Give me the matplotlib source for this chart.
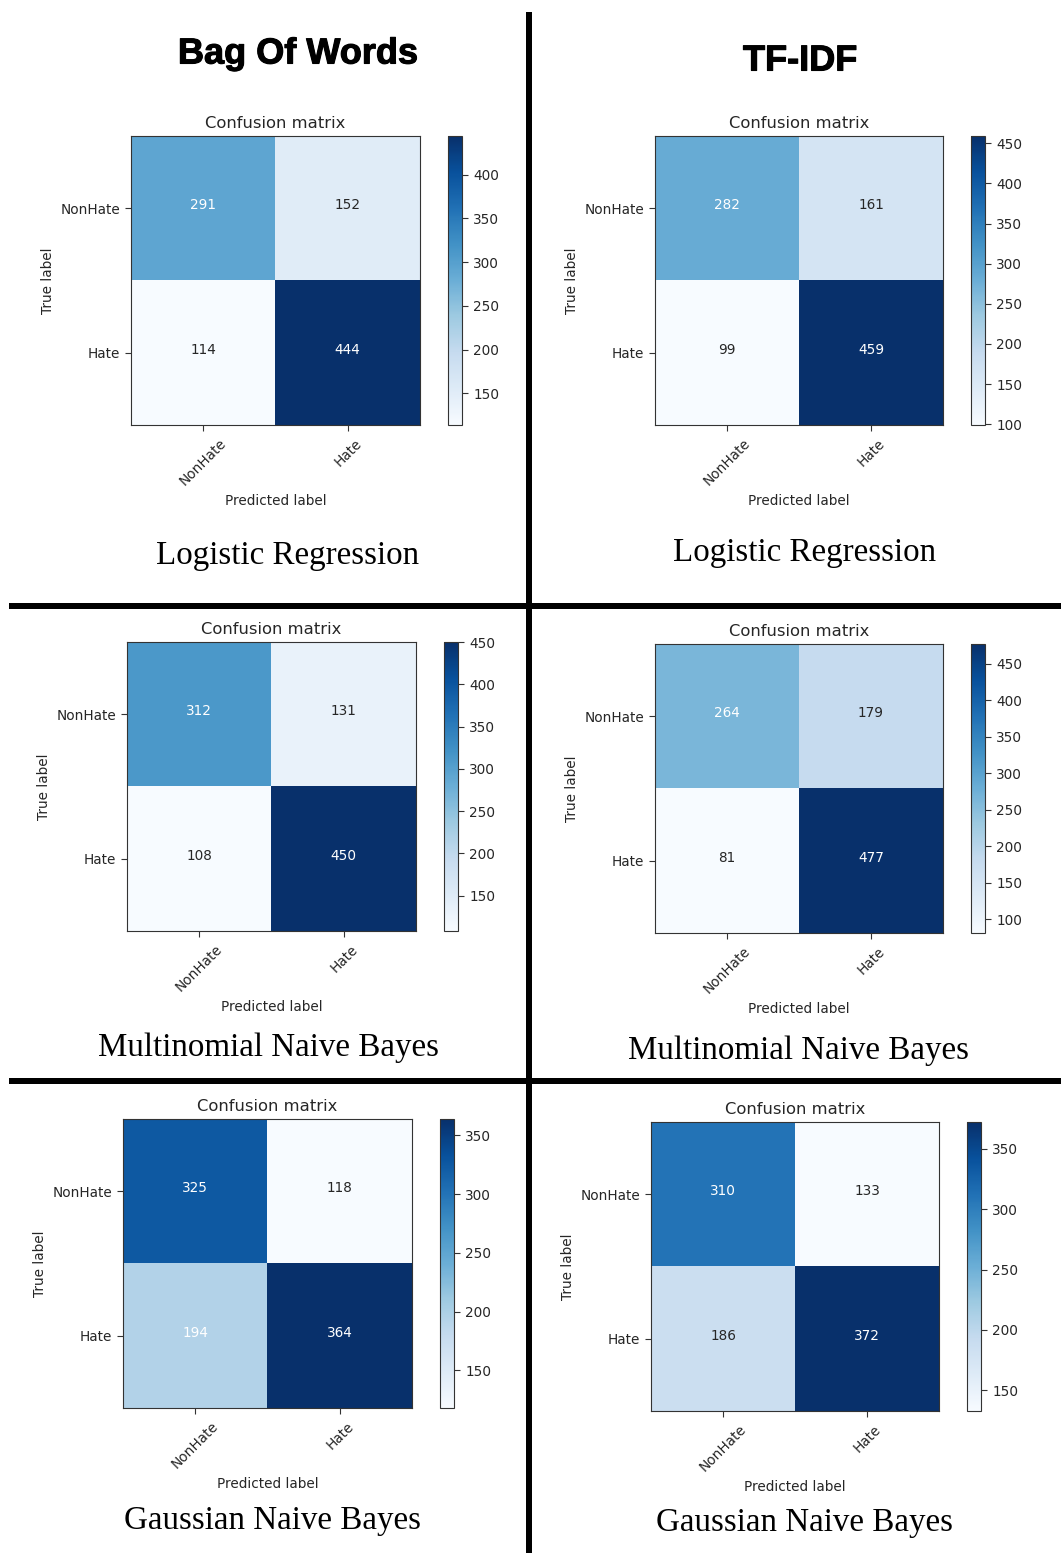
import numpy as np
import matplotlib
matplotlib.use("Agg")
import matplotlib.pyplot as plt
import matplotlib.patheffects as pe
from matplotlib.lines import Line2D

# Class names shared by every confusion matrix
classes = ["NonHate", "Hate"]

# Confusion matrices (rows: true label, columns: predicted label)
bow_logreg = [[291, 152], [114, 444]]
tfidf_logreg = [[282, 161], [99, 459]]
bow_mnb = [[312, 131], [108, 450]]
tfidf_mnb = [[264, 179], [81, 477]]
bow_gnb = [[325, 118], [194, 364]]
tfidf_gnb = [[310, 133], [186, 372]]

feature_titles = ["Bag Of Words", "TF-IDF"]
model_titles = ["Logistic Regression", "Logistic Regression",
                "Multinomial Naive Bayes", "Multinomial Naive Bayes",
                "Gaussian Naive Bayes", "Gaussian Naive Bayes"]

W, H = 1061, 1553
fig = plt.figure(figsize=(W / 100, H / 100), dpi=100)
fig.patch.set_facecolor("white")


def fx(x):
    return x / W


def fy(y):
    return 1 - y / H


def add_px_axes(left, top, right, bottom):
    return fig.add_axes([fx(left), fy(bottom), (right - left) / W, (bottom - top) / H])


BASE = 9.8
INK = "#262626"


def plot_confusion_matrix(cm, box):
    cm = np.asarray(cm)
    left, top, right, bottom = box
    ax = add_px_axes(left, top, right, bottom)
    cax = add_px_axes(right + 28, top, right + 42, bottom)
    im = ax.imshow(cm, interpolation="nearest", cmap=plt.cm.Blues, aspect="auto")
    ax.set_title("Confusion matrix", fontsize=BASE * 1.2, pad=6, color=INK)
    cb = fig.colorbar(im, cax=cax)
    cb.ax.tick_params(labelsize=BASE, length=4.5, color="#333333", labelcolor=INK)
    cb.outline.set_edgecolor("#333333")
    ticks = np.arange(len(classes))
    ax.set_xticks(ticks)
    ax.set_xticklabels(classes, rotation=45, fontsize=BASE)
    ax.set_yticks(ticks)
    ax.set_yticklabels(classes, fontsize=BASE)
    ax.tick_params(length=4.5, color="#333333", labelcolor=INK)
    thresh = cm.max() / 2.0
    for i in range(cm.shape[0]):
        for j in range(cm.shape[1]):
            ax.text(j, i - 0.02, format(cm[i, j], "d"), ha="center", va="center",
                    fontsize=BASE,
                    color="white" if cm[i, j] > thresh else INK)
    ax.set_ylabel("True label", fontsize=BASE, color=INK)
    ax.set_xlabel("Predicted label", fontsize=BASE, color=INK)
    for s in ax.spines.values():
        s.set_edgecolor("#333333")
    return ax


matrices = [bow_logreg, tfidf_logreg, bow_mnb, tfidf_mnb, bow_gnb, tfidf_gnb]
boxes = [(131, 136, 420, 425), (655, 136, 943, 425),
         (127, 642, 416, 931), (655, 644, 943, 933),
         (123, 1119, 412, 1408), (651, 1122, 939, 1411)]
for cm, box in zip(matrices, boxes):
    plot_confusion_matrix(cm, box)

# Column headers
header_pos = [(298, 54), (800, 61)]
for text, (x, y) in zip(feature_titles, header_pos):
    fig.text(fx(x), fy(y), text, ha="center", va="center",
             fontsize=26, fontweight="bold", family="Liberation Sans",
             path_effects=[pe.withStroke(linewidth=0.8, foreground="black")])

# Model captions under each matrix
caption_pos = [(288, 556), (805, 553), (268, 1048), (799, 1051),
               (272, 1521), (804, 1523)]
for text, (x, y) in zip(model_titles, caption_pos):
    fig.text(fx(x), fy(y), text, ha="center", va="center",
             fontsize=23.8, family="Liberation Serif")

# Black grid separators
lw = 6 * 72 / 100
for xs, ys in [([528.5, 528.5], [12, H]),
               ([9, W], [606, 606]),
               ([9, W], [1081, 1081])]:
    fig.add_artist(Line2D([fx(v) for v in xs], [fy(v) for v in ys],
                          color="black", linewidth=lw,
                          solid_capstyle="butt", transform=fig.transFigure))

fig.savefig("out.png", dpi=100, facecolor="white")
